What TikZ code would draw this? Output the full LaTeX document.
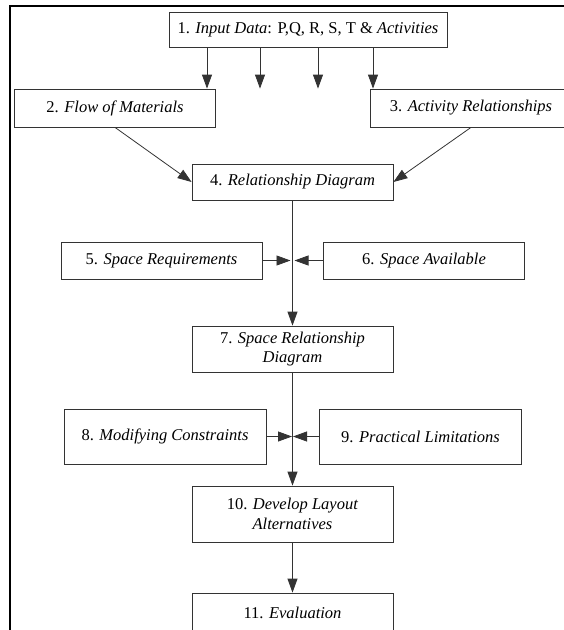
\documentclass[tikz,border=0pt]{standalone}
\usepackage{fontspec}
\setmainfont{Liberation Serif}
\usepackage{xcolor}
\usetikzlibrary{positioning,arrows.meta}

\begin{document}
\begin{tikzpicture}[
    x=1pt, y=1pt,
    node distance=80pt,
    step box/.style={rectangle, draw=black!80, line width=0.8pt, minimum width=201pt, minimum height=37pt, align=center, inner sep=2pt, font=\fontsize{16.5}{19.5}\selectfont},
    frame/.style={line width=2.5pt, black},
    arrow/.style={-{Triangle[length=14pt, width=10pt]}, line width=0.8pt, black!80}
]
    \useasboundingbox (0,0) rectangle (564,-630);
    \clip (0,0) rectangle (564,-630);
    % Outer frame
    \draw[frame] (10,-640) -- (10,-6) -- (570,-6);
    % Input data
    \node[step box, minimum width=278pt, minimum height=35pt] (b1) at (308,-29.5) {1. \textit{Input Data}: P,Q, R, S, T \& \textit{Activities}};
    % Flow and activities
    \node[step box, minimum height=38pt, below of=b1, xshift=-193pt, yshift=1.5pt] (b2) {2. \textit{Flow of Materials}};
    \node[step box, minimum height=38pt, below of=b1, xshift=163pt, yshift=1.5pt] (b3) {3. \textit{Activity Relationships}};
    \node[step box, minimum height=36pt, below of=b1, xshift=-15.5pt, yshift=-72.5pt] (b4) {4. \textit{Relationship Diagram}};
    % Space
    \node[step box, below of=b4, xshift=-131pt, yshift=1.5pt] (b5) {5. \textit{Space Requirements}};
    \node[step box, below of=b4, xshift=131.5pt, yshift=1.5pt] (b6) {6. \textit{Space Available}};
    \node[step box, minimum height=46pt, below of=b4, yshift=-87pt] (b7) {7. \textit{Space Relationship}\\\textit{Diagram}};
    % Constraints
    \node[step box, minimum width=202pt, minimum height=55pt, below of=b7, xshift=-127.5pt, yshift=-7.5pt] (b8) {8. \textit{Modifying Constraints}};
    \node[step box, minimum width=202pt, minimum height=55pt, below of=b7, xshift=128pt, yshift=-7.5pt] (b9) {9. \textit{Practical Limitations}};
    \node[step box, minimum height=56pt, below of=b7, yshift=-85pt] (b10) {10. \textit{Develop Layout}\\\textit{Alternatives}};
    \node[step box, minimum height=40pt, below of=b10, yshift=-19pt] (b11) {11. \textit{Evaluation}};
    % Junctions
    \coordinate (j1) at (b4.south |- b5.east);
    \coordinate (j2) at (b7.south |- b8.east);
    % Arrows
    \draw[arrow] ([xshift=-101pt]b1.south) -- ([xshift=-101pt]b1.south |- b2.north);
    \draw[arrow] ([xshift=-48pt]b1.south) -- ([xshift=-48pt]b1.south |- b2.north);
    \draw[arrow] ([xshift=10pt]b1.south) -- ([xshift=10pt]b1.south |- b2.north);
    \draw[arrow] ([xshift=65pt]b1.south) -- ([xshift=65pt]b1.south |- b3.north);
    \draw[arrow] (b2.south) -- (b4.west);
    \draw[arrow] (b3.south) -- (b4.east);
    \draw[arrow] (b4) -- (b7);
    \draw[arrow, shorten >=2pt] (b5) -- (j1);
    \draw[arrow, shorten >=2pt] (b6) -- (j1);
    \draw[arrow] (b7) -- (b10);
    \draw[arrow, shorten >=0.5pt] (b8) -- (j2);
    \draw[arrow, shorten >=0.5pt] (b9) -- (j2);
    \draw[arrow] (b10) -- (b11);
\end{tikzpicture}
\end{document}
